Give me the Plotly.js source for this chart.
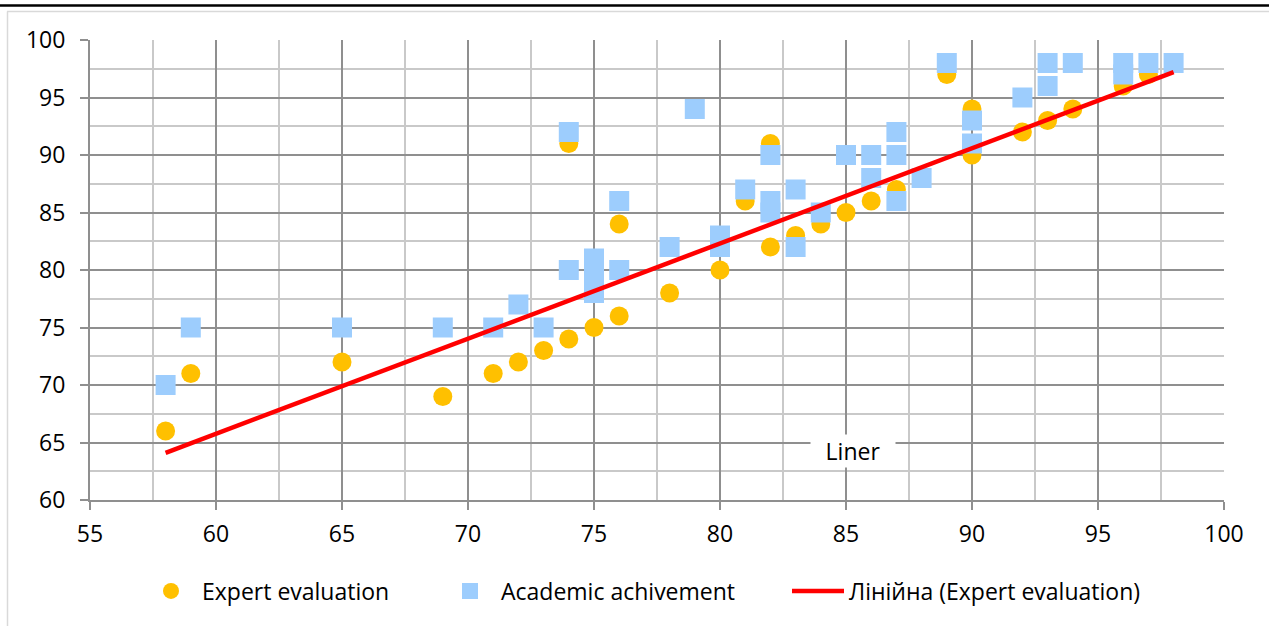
<!DOCTYPE html>
<html>
<head>
<meta charset="utf-8">
<script src="https://cdn.plot.ly/plotly-3.0.1.min.js"></script>
<style>
html,body{margin:0;padding:0;background:#fff;}
#chart{width:1269px;height:626px;}
</style>
</head>
<body>
<div id="chart"></div>
<script>
// ---- data ----
const expertX = [58,59,65,69,71,72,73,74,74,75,76,76,78,80,81,82,82,83,84,85,86,87,89,90,90,92,93,94,96,97];
const expertY = [66,71,72,69,71,72,73,91,74,75,84,76,78,80,86,91,82,83,84,85,86,87,97,94,90,92,93,94,96,97];

const academicX = [58,59,65,69,71,72,73,74,74,75,75,75,75,76,76,78,79,80,80,81,82,82,82,83,83,84,85,86,86,87,87,87,88,89,90,90,92,93,93,94,96,96,97,98];
const academicY = [70,75,75,75,75,77,75,92,80,81,80,79,78,86,80,82,94,83,82,87,90,86,85,87,82,85,90,90,88,92,90,86,88,98,93,91,95,98,96,98,98,97,98,98];

// linear trend line (Expert evaluation), end points
const trendX = [58, 98];
const trendY = [64.1, 97.2];

const seriesNames = ['Expert evaluation', 'Academic achivement', 'Лінійна (Expert evaluation)'];
const trendLabel = 'Liner';

// ---- layout helpers (pixel -> paper) ----
const W = 1269, H = 626;
const mL = 90, mR = 45, mT = 40, mB = 126;
const pw = W - mL - mR, ph = H - mT - mB;
const px = v => (v - mL) / pw;
const py = v => (H - mB - v) / ph;

const FONT = {family: '"Open Sans", "Noto Sans", sans-serif', size: 23, color: '#000'};
const MAJOR = '#8f8f8f', MINOR = '#c9c9c9';

const traces = [
  {
    type: 'scatter', mode: 'markers', name: seriesNames[0],
    x: expertX, y: expertY,
    marker: {symbol: 'circle', size: 19, color: '#FFC000', line: {width: 0}},
    legend: 'legend', hoverinfo: 'x+y'
  },
  {
    type: 'scatter', mode: 'markers', name: seriesNames[1],
    x: academicX, y: academicY,
    marker: {symbol: 'square', size: 20, color: '#9DCDFD', line: {width: 0}},
    legend: 'legend2', hoverinfo: 'x+y'
  },
  {
    type: 'scatter', mode: 'lines', name: seriesNames[2],
    x: trendX, y: trendY,
    line: {color: '#FF0000', width: 4.5},
    legend: 'legend3', hoverinfo: 'x+y'
  }
];

const axisCommon = {
  showgrid: true, gridcolor: MAJOR, gridwidth: 2,
  showline: true, linecolor: MAJOR, linewidth: 2,
  ticks: 'outside', ticklen: 8, tickwidth: 2, tickcolor: MAJOR,
  zeroline: false, tickfont: FONT,
  minor: {dtick: 2.5, showgrid: true, gridcolor: MINOR, gridwidth: 2, ticks: ''}
};

const legendCommon = {orientation: 'h', yanchor: 'middle', xanchor: 'left', y: py(591),
  font: FONT, bgcolor: 'rgba(0,0,0,0)', borderwidth: 0, itemsizing: 'trace', itemwidth: 52};

const layout = {
  width: W, height: H,
  margin: {l: mL, r: mR, t: mT, b: mB, pad: 0},
  paper_bgcolor: '#fff', plot_bgcolor: '#fff',
  font: FONT,
  xaxis: Object.assign({}, axisCommon, {range: [55, 100], dtick: 5, tick0: 55, ticklabelstandoff: 4}),
  yaxis: Object.assign({}, axisCommon, {range: [60, 100], dtick: 5, tick0: 60, ticklabelstandoff: 10}),
  showlegend: true,
  legend: Object.assign({}, legendCommon, {x: px(140)}),
  legend2: Object.assign({}, legendCommon, {x: px(439)}),
  legend3: Object.assign({}, legendCommon, {x: px(787)}),
  annotations: [{
    xref: 'x', yref: 'y', x: 85.28, y: 64.26, text: trendLabel, showarrow: false,
    font: FONT, bgcolor: '#fff', width: 84, borderpad: 0
  }],
  shapes: [
    {type: 'line', xref: 'paper', yref: 'paper', x0: px(0), x1: px(W), y0: py(5.5), y1: py(5.5),
     line: {color: '#000', width: 2.5}},
    {type: 'line', xref: 'paper', yref: 'paper', x0: px(7), x1: px(W), y0: py(11.5), y1: py(11.5),
     line: {color: '#d9d9d9', width: 1.5}},
    {type: 'line', xref: 'paper', yref: 'paper', x0: px(7.5), x1: px(7.5), y0: py(11.5), y1: py(H),
     line: {color: '#d9d9d9', width: 1.5}}
  ]
};

Plotly.newPlot('chart', traces, layout, {displayModeBar: false, staticPlot: true});
</script>
</body>
</html>
